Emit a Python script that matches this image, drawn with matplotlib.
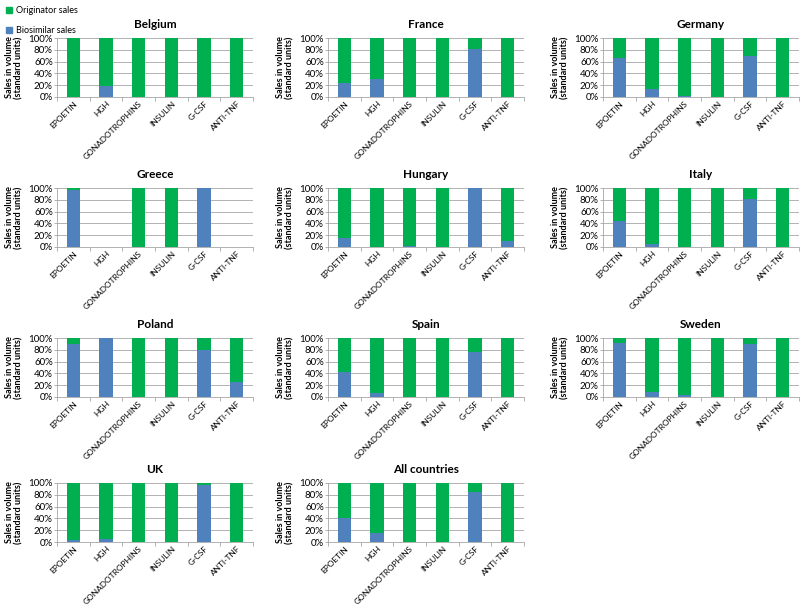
import matplotlib.pyplot as plt
import numpy as np
from matplotlib.patches import Patch
from matplotlib.ticker import FuncFormatter

plt.rcParams['font.family'] = ['Lato', 'DejaVu Sans']

products = ["EPOETIN", "HGH", "GONADOTROPHINS", "INSULIN", "G-CSF", "ANTI-TNF"]
countries = ["Belgium", "France", "Germany", "Greece", "Hungary", "Italy",
             "Poland", "Spain", "Sweden", "UK", "All countries"]

# biosimilar share (%) per product, per country
belgium = [0, 18, 0, 0, 0, 0]
france = [24, 30, 0, 0, 82, 0]
germany = [66, 13, 1, 0, 70, 0]
greece = [97, 0, 0, 0, 100, 0]
hungary = [16, 0, 2, 0, 100, 10]
italy = [44, 5, 0, 0, 81, 0]
poland = [89, 100, 0, 0, 80, 25]
spain = [43, 6, 0, 0, 77, 0]
sweden = [91, 8, 3, 0, 90, 0]
uk = [3, 5, 0, 0, 97, 0]
all_countries = [40, 15, 0, 0, 84, 0]

# total share (100 where the product is sold, 0 where no sales)
total_default = [100, 100, 100, 100, 100, 100]
total_greece = [100, 0, 100, 100, 100, 0]

biosim = [belgium, france, germany, greece, hungary, italy,
          poland, spain, sweden, uk, all_countries]
totals = [total_default] * 3 + [total_greece] + [total_default] * 7

GREEN = "#00B050"
BLUE = "#4F81BD"
GRID = "#A6A6A6"

W, H = 800, 608
fig = plt.figure(figsize=(W / 100, H / 100), dpi=100)

col_x = [57, 328, 603]
row_y = [38, 188, 338, 483]
aw, ah = 196, 59

x = np.arange(len(products))
for i, name in enumerate(countries):
    r, c = divmod(i, 3)
    ax = fig.add_axes([col_x[c] / W, 1 - (row_y[r] + ah) / H, aw / W, ah / H])
    b = np.array(biosim[i], dtype=float)
    t = np.array(totals[i], dtype=float)
    ax.bar(x, b, width=0.4, color=BLUE, zorder=3)
    ax.bar(x, t - b, bottom=b, width=0.4, color=GREEN, zorder=3)
    ax.set_xlim(-0.5, len(products) - 0.5)
    ax.set_ylim(0, 100)
    ax.set_yticks(range(0, 101, 20))
    ax.yaxis.set_major_formatter(FuncFormatter(lambda v, p: f"{int(v)}%"))
    ax.set_xticks(x)
    ax.set_xticklabels(products, rotation=45, ha="right", rotation_mode="anchor",
                       fontsize=6)
    ax.set_xticks(np.arange(-0.5, len(products)), minor=True)
    ax.tick_params(axis="x", which="major", length=0, pad=2)
    ax.tick_params(axis="x", which="minor", length=3, color=GRID, width=0.6)
    ax.tick_params(axis="y", length=2, color=GRID, width=0.6, labelsize=7, pad=1)
    ax.grid(axis="y", color=GRID, linewidth=0.6, zorder=0)
    for s in ["top", "right"]:
        ax.spines[s].set_visible(False)
    for s in ["left", "bottom"]:
        ax.spines[s].set_color(GRID)
        ax.spines[s].set_linewidth(0.6)
    ax.set_title(name, fontsize=8.5, fontweight="bold", pad=7)
    ax.set_ylabel("Sales in volume\n(standard units)", fontsize=6.5,
                  fontweight="bold", linespacing=1.1)
    ax.yaxis.set_label_coords(-0.17, 0.5)

handles = [Patch(color=GREEN, label="Originator sales"),
           Patch(color=BLUE, label="Biosimilar sales")]
fig.legend(handles=handles, loc="upper left", bbox_to_anchor=(-0.003, 1.003),
           frameon=False, fontsize=6.5, labelspacing=1.2, handlelength=0.7,
           handleheight=0.7, handletextpad=0.4)

fig.savefig("out.png", dpi=100)
